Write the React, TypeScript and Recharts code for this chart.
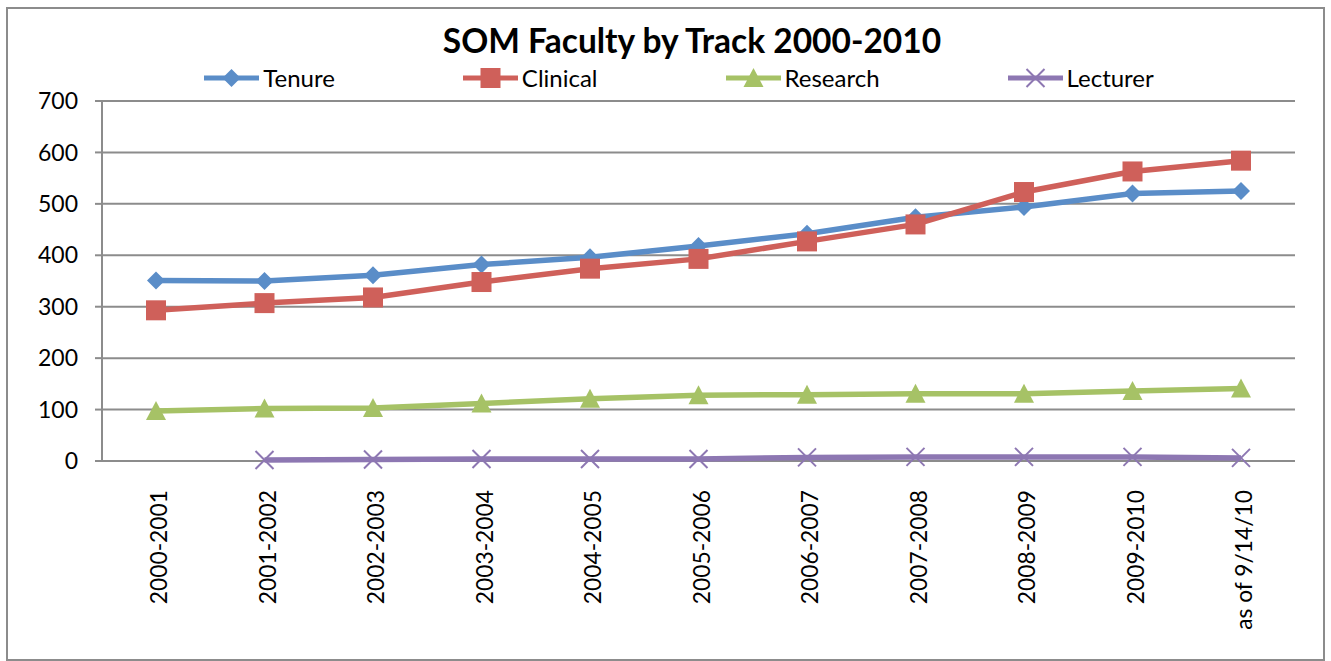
import { LineChart, Line, XAxis, YAxis, CartesianGrid, Legend } from 'recharts';

const categories = [
  '2000-2001', '2001-2002', '2002-2003', '2003-2004', '2004-2005', '2005-2006',
  '2006-2007', '2007-2008', '2008-2009', '2009-2010', 'as of 9/14/10',
];
const tenure = [351, 350, 361, 382, 396, 418, 442, 474, 494, 520, 525];
const clinical = [293, 307, 318, 348, 374, 393, 427, 460, 523, 563, 584];
const research = [97, 102, 103, 112, 121, 128, 129, 131, 131, 136, 141];
const lecturer = [null, 2, 3, 4, 4, 4, 7, 8, 8, 8, 6];
const series = ['Tenure', 'Clinical', 'Research', 'Lecturer'];
const yTicks = [0, 100, 200, 300, 400, 500, 600, 700];
const boundTicks = categories.map((_, i) => i).concat(categories.length);

const data = categories.map((period, i) => ({
  period,
  idx: i + 0.5,
  Tenure: tenure[i],
  Clinical: clinical[i],
  Research: research[i],
  Lecturer: lecturer[i],
}));

const FONT = 'Lato, "Open Sans", sans-serif';
const GRID = '#8c8c8c';

const colors: Record<string, string> = {
  Tenure: '#5a8dc8',
  Clinical: '#cf605a',
  Research: '#a6c266',
  Lecturer: '#8d77b2',
};

// marker drawing for both the lines and the legend
const Marker = ({ kind, cx, cy }: { kind: string; cx: number; cy: number }) => {
  const c = colors[kind];
  if (kind === 'Tenure') {
    return <polygon points={`${cx},${cy - 9} ${cx + 9},${cy} ${cx},${cy + 9} ${cx - 9},${cy}`} fill={c} />;
  }
  if (kind === 'Clinical') {
    return <rect x={cx - 10} y={cy - 10} width={20} height={20} fill={c} />;
  }
  if (kind === 'Research') {
    return <polygon points={`${cx},${cy - 10} ${cx + 10},${cy + 9} ${cx - 10},${cy + 9}`} fill={c} />;
  }
  return (
    <g stroke={c} strokeWidth={2}>
      <line x1={cx - 9} y1={cy - 9} x2={cx + 9} y2={cy + 9} />
      <line x1={cx - 9} y1={cy + 9} x2={cx + 9} y2={cy - 9} />
    </g>
  );
};

const makeDot = (kind: string) => (props: any) => {
  const { cx, cy, index, value } = props;
  if (cx == null || cy == null || value == null) return <g key={`${kind}-${index}`} />;
  return <Marker key={`${kind}-${index}`} kind={kind} cx={cx} cy={cy} />;
};

const CategoryTick = ({ x, y, payload }: any) => (
  <text
    transform={`translate(${x},${y + 27}) rotate(-90)`}
    x={0}
    y={11}
    textAnchor="end"
    fontSize={22.8}
    fontFamily={FONT}
    fill="#000"
  >
    {payload.value}
  </text>
);

const LegendRow = ({ payload }: any) => {
  const items = [...(payload || [])].sort((a: any, b: any) => series.indexOf(a.value) - series.indexOf(b.value));
  return (
    <div style={{ display: 'flex', justifyContent: 'center', gap: 128, fontFamily: FONT, fontSize: 24, lineHeight: '28px', color: '#000' }}>
      {items.map((p: any) => (
        <div key={p.value} style={{ display: 'flex', alignItems: 'center' }}>
          <svg width={55} height={22} style={{ marginRight: 4 }}>
            <line x1={0} y1={11} x2={55} y2={11} stroke={colors[p.value]} strokeWidth={5} strokeLinecap="round" />
            <Marker kind={p.value} cx={27.5} cy={11} />
          </svg>
          <span>{p.value}</span>
        </div>
      ))}
    </div>
  );
};

export default function App() {
  return (
    <div style={{ position: 'absolute', left: 0, top: 0, width: 1331, height: 661, background: '#fff' }}>
      <div style={{ position: 'absolute', left: 6, top: 7, width: 1315, height: 650, border: '2px solid #8c8c8c' }} />
      <div style={{ position: 'absolute', left: 0, width: 1384, top: 24, textAlign: 'center', fontFamily: FONT, fontWeight: 700, fontSize: 33.5, lineHeight: '33px', color: '#000' }}>
        SOM Faculty by Track 2000-2010
      </div>
      <div style={{ position: 'absolute', left: 0, top: 0 }}>
        <LineChart width={1331} height={661} data={data} margin={{ top: 101, right: 36, bottom: 10, left: 20 }}>
          <CartesianGrid vertical={false} stroke={GRID} strokeWidth={2} />
          <XAxis
            xAxisId="bounds"
            dataKey="idx"
            type="number"
            domain={[0, categories.length]}
            ticks={boundTicks}
            allowDataOverflow
            height={0}
            tick={false}
            tickSize={9}
            tickLine={{ stroke: GRID, strokeWidth: 2 }}
            axisLine={{ stroke: GRID, strokeWidth: 2 }}
          />
          <XAxis
            dataKey="period"
            interval={0}
            height={190}
            padding={{ left: 54, right: 54 }}
            tick={<CategoryTick />}
            tickSize={0}
            tickLine={false}
            axisLine={false}
          />
          <YAxis
            domain={[0, 700]}
            ticks={yTicks}
            width={82}
            tickSize={7}
            tickMargin={17}
            tick={{ fill: '#000', fontSize: 23, fontFamily: FONT }}
            tickLine={{ stroke: GRID, strokeWidth: 2 }}
            axisLine={{ stroke: GRID, strokeWidth: 2 }}
          />
          <Legend
            layout="horizontal"
            verticalAlign="middle"
            align="center"
            content={<LegendRow />}
            wrapperStyle={{ top: 64, left: 0, width: 1358 }}
          />
          {series.map((s) => (
            <Line
              key={s}
              type="linear"
              dataKey={s}
              stroke={colors[s]}
              strokeWidth={5.5}
              dot={makeDot(s)}
              activeDot={false}
              isAnimationActive={false}
            />
          ))}
        </LineChart>
      </div>
    </div>
  );
}
